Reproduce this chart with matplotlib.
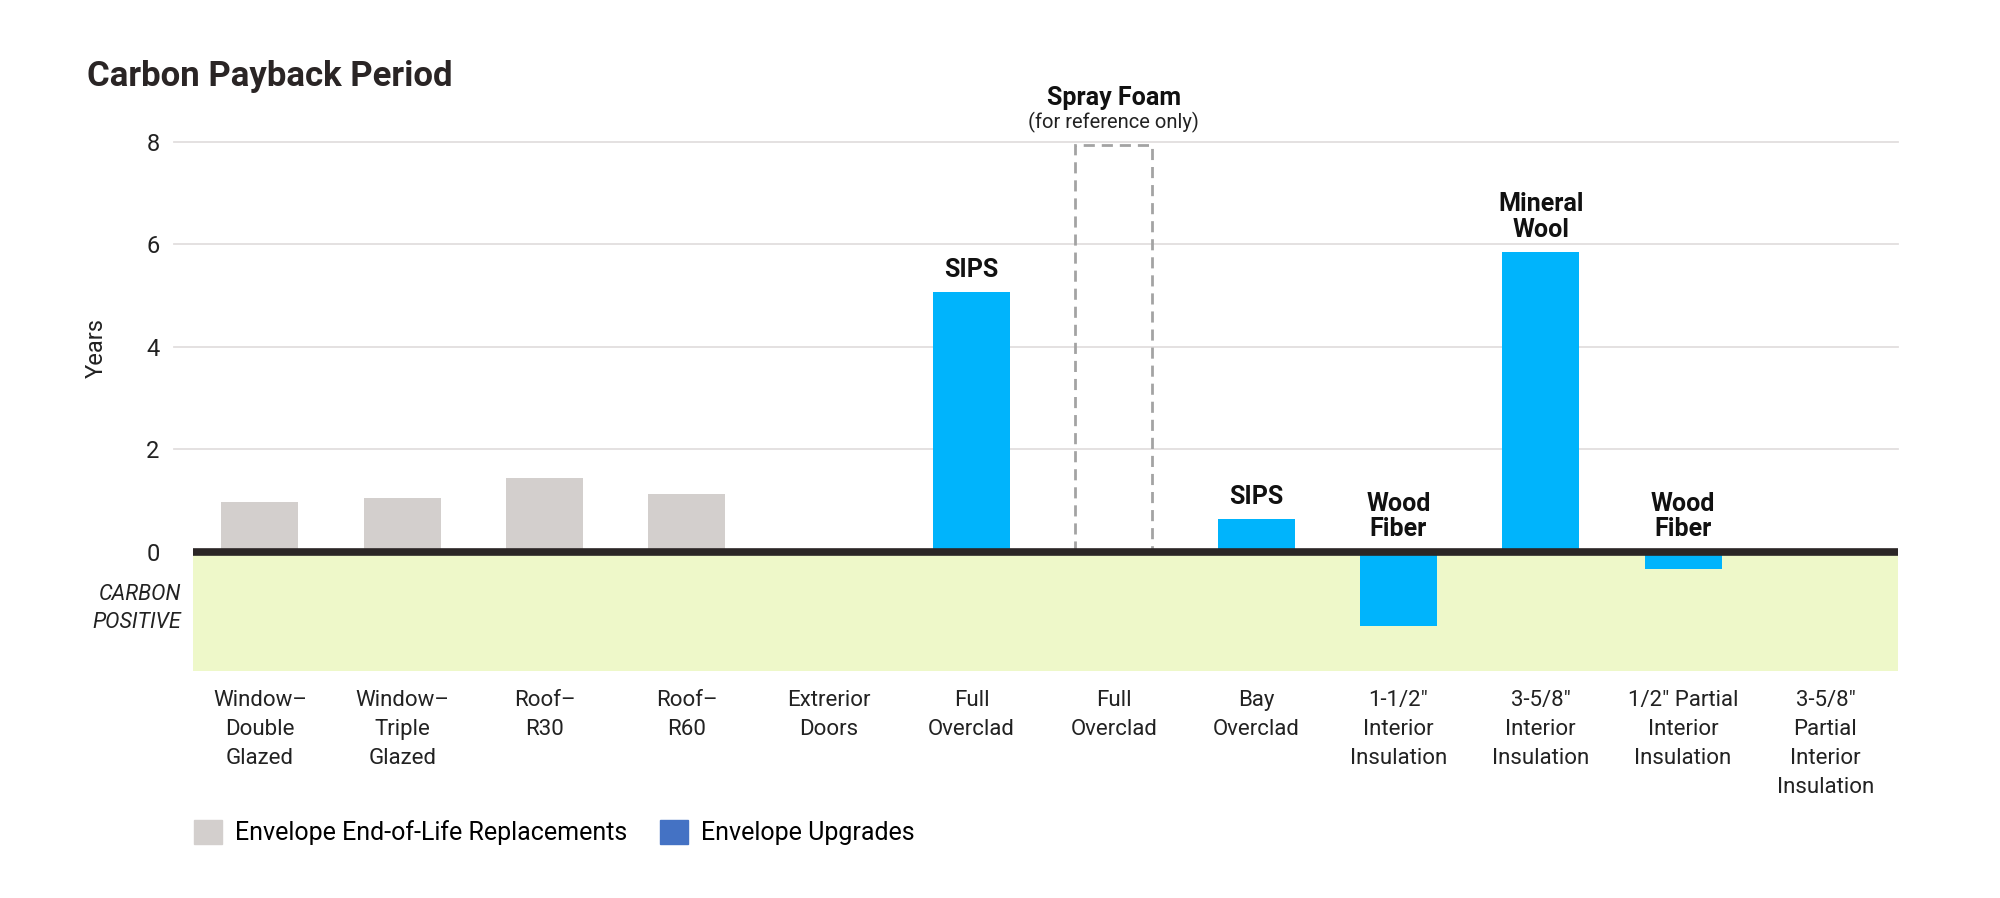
import matplotlib.pyplot as plt
from matplotlib.patches import Patch

# data
categories = ["Window–\nDouble\nGlazed", "Window–\nTriple\nGlazed", "Roof–\nR30", "Roof–\nR60",
              "Extrerior\nDoors", "Full\nOverclad", "Full\nOverclad", "Bay\nOverclad",
              "1-1/2\"\nInterior\nInsulation", "3-5/8\"\nInterior\nInsulation",
              "1/2\" Partial\nInterior\nInsulation", "3-5/8\"\nPartial\nInterior\nInsulation"]
years = [0.97, 1.05, 1.43, 1.13, 0.0, 5.07, 7.95, 0.63, -1.45, 5.85, -0.33, 0.0]
kinds = ["eol", "eol", "eol", "eol", "eol", "upgrade", "reference", "upgrade",
         "upgrade", "upgrade", "upgrade", "upgrade"]
bar_notes = ["", "", "", "", "", "SIPS", "", "SIPS", "Wood\nFiber", "Mineral\nWool", "Wood\nFiber", ""]
y_ticks = [0, 2, 4, 6, 8]
carbon_positive_floor = -2.33

GRAY = "#d3cfcd"
BLUE = "#00b4fc"
LEGEND_BLUE = "#4472c4"
GREEN = "#eef8c9"
DARK = "#2b2626"
FONT = "Roboto"


def main():
    plt.rcParams['font.family'] = [FONT, 'DejaVu Sans']
    fig = plt.figure(figsize=(20, 8.98), dpi=100)
    ax = fig.add_axes([0.0965, 0.2528, 0.8525, 0.5891])

    ax.set_xlim(-0.47, len(categories) - 0.49)
    ax.set_ylim(carbon_positive_floor, 8)

    # gridlines, a bit wider than the plot on the left
    for t in y_ticks[1:]:
        ax.plot([-0.6, len(categories) - 0.49], [t, t], color="#e2dede", lw=1.3,
                zorder=0, clip_on=False)
    ax.axhspan(carbon_positive_floor, 0, color=GREEN, lw=0, zorder=0)

    x = list(range(len(categories)))
    for i, (v, k) in enumerate(zip(years, kinds)):
        if k == "reference":
            ax.bar(i, v, width=0.54, fill=False, edgecolor="#a3a3a3", linestyle=(0, (4, 2.5)),
                   linewidth=2, zorder=2)
        elif v != 0:
            ax.bar(i, v, width=0.54, color=GRAY if k == "eol" else BLUE, zorder=2)

    ax.axhline(0, color=DARK, lw=5.5, zorder=3)

    for i, note in enumerate(bar_notes):
        if note:
            top = max(years[i], 0)
            ax.text(i, top + 0.2, note, ha="center", va="bottom", fontsize=18,
                    fontweight="bold", color="#111111", linespacing=1.1)
    ax.text(6, 8.62, "Spray Foam", ha="center", va="bottom", fontsize=18,
            fontweight="bold", color="#111111")
    ax.text(6, 8.18, "(for reference only)", ha="center", va="bottom", fontsize=14.5,
            color="#222222")

    ax.set_xticks(x)
    ax.set_xticklabels(categories, fontsize=16, color="#222222", linespacing=1.5, va="top")
    ax.set_yticks(y_ticks)
    ax.set_yticklabels([str(t) for t in y_ticks], fontsize=17, color="#222222")
    ax.tick_params(axis="both", length=0)
    ax.tick_params(axis="x", pad=14)
    ax.tick_params(axis="y", pad=24)
    for s in ax.spines.values():
        s.set_visible(False)

    fig.text(0.048, 0.612, "Years", rotation=90, ha="center", va="center", fontsize=17,
             color="#222222")
    fig.text(0.0905, 0.3225, "CARBON\nPOSITIVE", ha="right", va="center", fontsize=15.5,
             style="italic", color="#222222", linespacing=1.4)
    fig.text(0.0435, 0.915, "Carbon Payback Period", ha="left", va="center", fontsize=25,
             fontweight="bold", color="#2a2525")

    handles = [Patch(color=GRAY, label="Envelope End-of-Life Replacements"),
               Patch(color=LEGEND_BLUE, label="Envelope Upgrades")]
    fig.legend(handles=handles, loc="center left", bbox_to_anchor=(0.0855, 0.073), ncol=2,
               frameon=False, fontsize=18, handlelength=1.15, handleheight=1.15,
               handletextpad=0.5, columnspacing=1.3)

    fig.savefig("out.png", dpi=100)
    plt.close(fig)


if __name__ == "__main__":
    main()
